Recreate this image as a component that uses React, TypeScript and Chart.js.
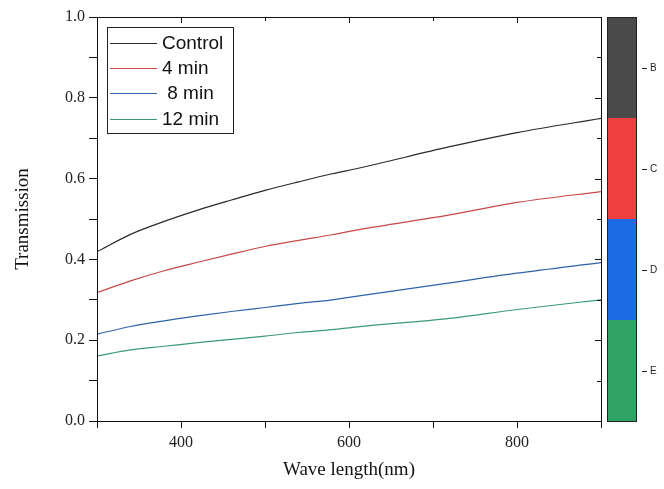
import React, { useEffect, useRef } from "react";
import { Chart, registerables } from "chart.js";

Chart.register(...registerables);

const wavelengths = [300, 340, 380, 420, 460, 500, 540, 580, 610, 720, 800, 900];
const controlValues = [0.419, 0.462, 0.494, 0.522, 0.547, 0.571, 0.592, 0.612, 0.625, 0.679, 0.714, 0.749];
const min4Values = [0.318, 0.347, 0.372, 0.393, 0.413, 0.432, 0.447, 0.461, 0.473, 0.51, 0.541, 0.568];
const min8Values = [0.215, 0.234, 0.248, 0.26, 0.271, 0.281, 0.291, 0.3, 0.309, 0.342, 0.366, 0.392];
const min12Values = [0.161, 0.176, 0.185, 0.194, 0.202, 0.21, 0.219, 0.226, 0.233, 0.254, 0.276, 0.3];
const seriesLabels = ["Control", "4 min", " 8 min", "12 min"];
const seriesColors = ["#2a2a2a", "#c84848", "#2f62a8", "#3a9a78"];
const xTickValues = [300, 400, 500, 600, 700, 800, 900];
const xLabelTicks = [400, 600, 800];
const yTickValues = [0, 0.1, 0.2, 0.3, 0.4, 0.5, 0.6, 0.7, 0.8, 0.9, 1.0];
const yLabelTicks = [0.0, 0.2, 0.4, 0.6, 0.8, 1.0];
const barLabels = ["B", "C", "D", "E"];
const barColors = ["#4a4a4a", "#ee4040", "#1c6ae4", "#30a464"];

const isYLabel = (v: number) => yLabelTicks.some((t) => Math.abs(t - v) < 1e-6);

const framePlugin = {
  id: "frame",
  afterDraw(chart: any) {
    const ctx = chart.ctx;
    const { left, right, top, bottom } = chart.chartArea;
    const xs = chart.scales.x;
    const ys = chart.scales.y;
    const L = Math.round(left), R = Math.round(right), T = Math.round(top), B = Math.round(bottom);
    ctx.save();
    ctx.fillStyle = "#111";
    // frame
    ctx.fillRect(L, T, R - L + 1, 1);
    ctx.fillRect(L, B, R - L + 1, 1);
    ctx.fillRect(L, T, 1, B - T + 1);
    ctx.fillRect(R, T, 1, B - T + 1);
    // inner ticks on right and top
    yTickValues.forEach((v) => {
      const y = Math.round(ys.getPixelForValue(v));
      const len = isYLabel(v) ? 6 : 4;
      ctx.fillRect(R - len, y, len, 1);
    });
    xTickValues.forEach((v) => {
      const x = Math.round(xs.getPixelForValue(v));
      const len = xLabelTicks.includes(v) ? 6 : 4;
      ctx.fillRect(x, T, 1, len);
    });
    // legend
    const bx = 107, by = 27, bw = 126, bh = 106;
    ctx.fillStyle = "#222";
    ctx.fillRect(bx, by, bw, 1);
    ctx.fillRect(bx, by + bh, bw + 1, 1);
    ctx.fillRect(bx, by, 1, bh);
    ctx.fillRect(bx + bw, by, 1, bh);
    ctx.font = "19px 'Liberation Sans', Arial, sans-serif";
    ctx.textBaseline = "middle";
    const rows = [43, 68, 93, 119];
    seriesLabels.forEach((lab, i) => {
      ctx.fillStyle = seriesColors[i];
      ctx.fillRect(110, rows[i], 47, 1);
      ctx.fillStyle = "#111";
      ctx.fillText(lab, 162, rows[i] + 1);
    });
    // color bar
    const cx = 607, cw = 29;
    const seg = (B - T) / barColors.length;
    ctx.font = "10px 'Liberation Sans', Arial, sans-serif";
    barColors.forEach((c, i) => {
      ctx.fillStyle = c;
      ctx.fillRect(cx, T + seg * i, cw, seg);
      const my = Math.round(T + seg * (i + 0.5));
      ctx.fillStyle = "#222";
      ctx.fillRect(cx + cw + 6, my, 5, 1);
      ctx.fillText(barLabels[i], cx + cw + 14, my);
    });
    ctx.fillStyle = "#222";
    ctx.fillRect(cx, T, cw, 1);
    ctx.fillRect(cx, B, cw + 1, 1);
    ctx.fillRect(cx, T, 1, B - T);
    ctx.fillRect(cx + cw, T, 1, B - T);
    ctx.restore();
  },
};

export default function App() {
  const ref = useRef<HTMLCanvasElement>(null);
  useEffect(() => {
    const data = [controlValues, min4Values, min8Values, min12Values];
    const chart = new Chart(ref.current!, {
      type: "line",
      data: {
        datasets: data.map((vals, i) => ({
          label: seriesLabels[i],
          data: vals.map((v, j) => ({ x: wavelengths[j], y: v })),
          borderColor: seriesColors[i],
          borderWidth: 1.2,
          pointRadius: 0,
          cubicInterpolationMode: "monotone" as const,
          fill: false,
        })),
      },
      options: {
        animation: false,
        responsive: false,
        maintainAspectRatio: false,
        layout: { padding: { top: 17, right: 63, left: 12, bottom: 0 } },
        plugins: { legend: { display: false }, tooltip: { enabled: false } },
        scales: {
          x: {
            type: "linear",
            min: 300,
            max: 900,
            grid: {
              display: true,
              drawOnChartArea: false,
              drawTicks: true,
              tickLength: 7,
              tickWidth: 1,
              tickColor: "#111",
            },
            border: { display: false },
            afterBuildTicks: (s: any) => {
              s.ticks = xTickValues.map((v) => ({ value: v }));
            },
            ticks: {
              padding: 5,
              color: "#222",
              autoSkip: false,
              maxRotation: 0,
              font: { family: "'Liberation Serif', 'Times New Roman', serif", size: 16 },
              callback: (v: any) => (xLabelTicks.includes(Number(v)) ? String(v) : ""),
            },
            title: {
              display: true,
              text: "Wave length(nm)",
              color: "#111",
              padding: { top: 4, bottom: 8 },
              font: { family: "'Liberation Serif', 'Times New Roman', serif", size: 19 },
            },
            afterFit: (s: any) => {
              s.height = 68;
            },
          },
          y: {
            min: 0,
            max: 1,
            grid: {
              display: true,
              drawOnChartArea: false,
              drawTicks: true,
              tickLength: 8,
              tickWidth: 1,
              tickColor: "#111",
            },
            border: { display: false },
            afterBuildTicks: (s: any) => {
              s.ticks = yTickValues.map((v) => ({ value: v }));
            },
            ticks: {
              padding: 4,
              color: "#222",
              autoSkip: false,
              font: { family: "'Liberation Serif', 'Times New Roman', serif", size: 16 },
              callback: (v: any) => (isYLabel(Number(v)) ? Number(v).toFixed(1) : ""),
            },
            title: {
              display: true,
              text: "Transmission",
              color: "#111",
              padding: { top: 0, bottom: 0 },
              font: { family: "'Liberation Serif', 'Times New Roman', serif", size: 19 },
            },
            afterFit: (s: any) => {
              s.width = 85;
            },
          },
        },
      },
      plugins: [framePlugin],
    });
    return () => chart.destroy();
  }, []);
  return (
    <div style={{ position: "absolute", left: 0, top: 0, width: 664, height: 489, background: "#fff" }}>
      <canvas ref={ref} width={664} height={489} />
    </div>
  );
}
